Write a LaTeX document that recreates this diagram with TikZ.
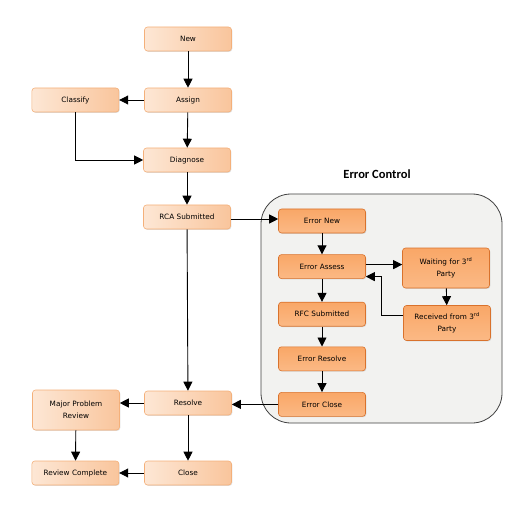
\documentclass[tikz,border=0pt]{standalone}
\usepackage{fontspec}
\setmainfont{Carlito}
\newfontfamily\boxfont{DejaVu Sans}
\usetikzlibrary{positioning, arrows.meta, shadows}

\definecolor{peachhi}{HTML}{FDE7D5}
\definecolor{peachlo}{HTML}{F9C59C}
\definecolor{peachedge}{HTML}{F4B07A}
\definecolor{orgtop}{HTML}{F9A767}
\definecolor{orgmid}{HTML}{F79646}
\definecolor{orgbot}{HTML}{FBB985}
\definecolor{orgedge}{HTML}{D9722C}
\definecolor{panelfill}{HTML}{F2F2F0}

\begin{document}
\begin{tikzpicture}[x=1pt, y=-1pt, line width=0.9pt,
    font=\boxfont\fontsize{7.3}{12.5}\selectfont,
    box/.style={rectangle, rounded corners=3pt, minimum width=87pt, minimum height=24pt,
        inner sep=2pt, text width=82pt, align=center, line width=0.6pt,
        drop shadow={shadow xshift=0.8pt, shadow yshift=-0.8pt, opacity=0.25}},
    light/.style={box, draw=peachedge, left color=peachhi, right color=peachlo},
    errbox/.style={box, draw=orgedge, top color=orgtop, middle color=orgmid, bottom color=orgbot},
    arr/.style={-{Triangle[length=9pt, width=9pt]}}]

    \useasboundingbox (0,0) rectangle (517,526);

    % error control panel
    \draw[fill=panelfill, draw=black!75, line width=0.8pt, rounded corners=30pt] (261,194) rectangle (502,423);
    \node[font=\rmfamily\fontsize{12.5}{14}\selectfont\bfseries] (ectitle) at (377,174) {Error Control};

    % main flow
    \node[light] (new) at (188,39) {New};
    \node[light] (assign) at (188,100) {Assign};
    \node[light, left=25pt of assign] (classify) {Classify};
    \node[light] (diagnose) at (187,160) {Diagnose};
    \node[light] (rca) at (187,217) {RCA Submitted};
    \node[light] (resolve) at (188,403) {Resolve};
    \node[light] (close) at (188,473) {Close};
    \node[light, minimum height=40pt] (major) at (76,410) {Major Problem\\Review};
    \node[light, left=25pt of close] (revdone) {Review Complete};

    % error control flow
    \node[errbox] (errnew) at (322,221) {Error New};
    \node[errbox, below=21pt of errnew] (errassess) {Error Assess};
    \node[errbox, below=23pt of errassess] (rfc) {RFC Submitted};
    \node[errbox, below=20pt of rfc] (errresolve) {Error Resolve};
    \node[errbox, below=21pt of errresolve] (errclose) {Error Close};
    \node[errbox, minimum height=40pt] (waiting) at (446,268) {Waiting for 3\textsuperscript{rd}\\Party};
    \node[errbox, minimum height=35pt] (received) at (447,323) {Received from 3\textsuperscript{rd}\\Party};

    \draw[arr] (new) -- (assign);
    \draw[arr] (assign) -- (classify);
    \draw[arr] (assign) -- (diagnose);
    \draw[arr] (classify.south) |- (diagnose.west);
    \draw[arr] (diagnose) -- (rca);
    \draw[arr] ([yshift=-2pt]rca.east) -- ([yshift=-2pt]rca.east -| errnew.west);
    \draw[arr] (rca) -- (resolve);

    \draw[arr] (errnew) -- (errassess);
    \draw[arr] ([yshift=2pt]errassess.east) -- ([yshift=2pt]errassess.east -| waiting.west);
    \draw[arr] (waiting) -- (received);
    \draw[arr] ([yshift=8pt]received.west) -| ([xshift=16pt, yshift=-10pt]errassess.east) -- ([yshift=-10pt]errassess.east);
    \draw[arr] (errassess) -- (rfc);
    \draw[arr] (rfc) -- (errresolve);
    \draw[arr] (errresolve) -- (errclose);
    \draw[arr] (errclose.west) -- (resolve.east |- errclose.west);

    \draw[arr] (resolve.west) -- (major.east |- resolve.west);
    \draw[arr] (resolve) -- (close);
    \draw[arr] (major) -- (revdone);
    \draw[arr] (close) -- (revdone);
\end{tikzpicture}
\end{document}
